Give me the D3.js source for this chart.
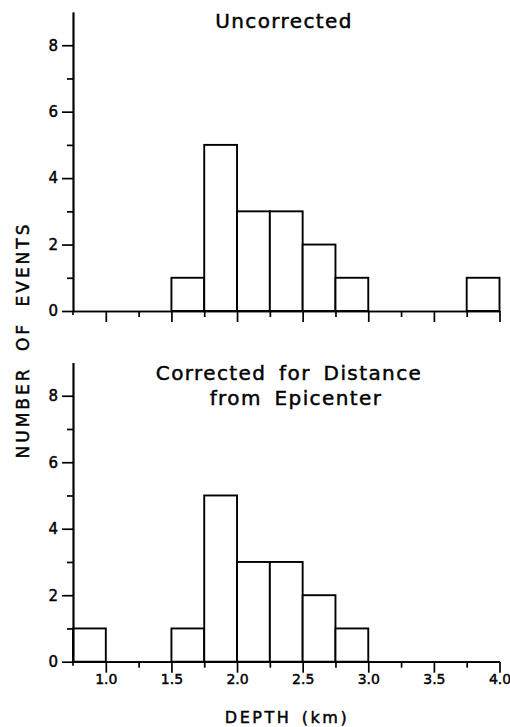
<!DOCTYPE html>
<html>
<head>
<meta charset="utf-8">
<script src="https://cdn.jsdelivr.net/npm/d3@7"></script>
<style>
  html, body { margin: 0; padding: 0; background: #fff; }
  svg { display: block; }
  text { font-family: "DejaVu Sans", sans-serif; fill: #000; stroke: #000; stroke-width: 0.45px; }
  .axis path, .axis line { stroke: #000; stroke-width: 1.7; }
  .xt text { font-size: 14px; }
  .yt text { font-size: 15px; }
</style>
</head>
<body>
<script>
// Data: histogram bins of 0.25 km from 0.75 to 4.0 km
const binStarts = [0.75, 1.0, 1.25, 1.5, 1.75, 2.0, 2.25, 2.5, 2.75, 3.0, 3.25, 3.5, 3.75];
const binWidth = 0.25;
const uncorrected = [0, 0, 0, 1, 5, 3, 3, 2, 1, 0, 0, 0, 1];
const corrected   = [1, 0, 0, 1, 5, 3, 3, 2, 1, 0, 0, 0, 0];
const xMajorTicks = [1.0, 1.5, 2.0, 2.5, 3.0, 3.5, 4.0];
const xMinorTicks = [1.25, 1.75, 2.25, 2.75, 3.25, 3.75];
const yMajorTicks = [0, 2, 4, 6, 8];
const yMinorTicks = [1, 3, 5, 7];
const titleTop = ["Uncorrected"];
const titleBottom = ["Corrected for Distance", "from Epicenter"];
const xLabel = "DEPTH (km)";
const yLabel = "NUMBER OF EVENTS";

const W = 510, H = 727;
const svg = d3.select("body").append("svg").attr("width", W).attr("height", H);

const x = d3.scaleLinear().domain([0.75, 4.0]).range([73, 499.5]);

function panel(values, y0, y1, titles, titleYs, titleXs, showLabels) {
  const y = d3.scaleLinear().domain([0, 9]).range([y0, y1]);
  const g = svg.append("g");

  // bars
  g.selectAll("rect.bar")
    .data(binStarts.map((s, i) => ({ s, v: values[i] })).filter(d => d.v > 0))
    .join("rect")
    .attr("class", "bar")
    .attr("x", d => x(d.s))
    .attr("y", d => y(d.v))
    .attr("width", d => x(d.s + binWidth) - x(d.s))
    .attr("height", d => y(0) - y(d.v))
    .attr("fill", "#fff")
    .attr("stroke", "#000")
    .attr("stroke-width", 1.9);

  // x axis minor
  g.append("g").attr("class", "axis")
    .attr("transform", `translate(0,${y(0)})`)
    .call(d3.axisBottom(x).tickValues(xMinorTicks).tickSize(6).tickSizeOuter(0).tickFormat(""));
  // x axis major
  const xa = g.append("g").attr("class", "axis xt")
    .attr("transform", `translate(0,${y(0)})`)
    .call(d3.axisBottom(x).tickValues(xMajorTicks).tickSize(11).tickSizeOuter(0)
      .tickFormat(showLabels ? d3.format(".1f") : ""));
  xa.attr("font-size", null).attr("font-family", null);
  xa.selectAll("text").attr("dy", "0.35em").attr("y", 17);

  // y axis minor
  g.append("g").attr("class", "axis")
    .attr("transform", `translate(${x(0.75)},0)`)
    .call(d3.axisLeft(y).tickValues(yMinorTicks).tickSize(6).tickSizeOuter(0).tickFormat(""));
  // y axis major
  const ya = g.append("g").attr("class", "axis yt")
    .attr("transform", `translate(${x(0.75)},0)`)
    .call(d3.axisLeft(y).tickValues(yMajorTicks).tickSize(11).tickSizeOuter(0).tickFormat(d3.format("d")));
  ya.attr("font-size", null).attr("font-family", null);
  ya.selectAll("text").attr("x", -15);
  // small extension of y axis below origin
  g.append("line").attr("x1", x(0.75)).attr("x2", x(0.75))
    .attr("y1", y(0)).attr("y2", y(0) + 4).attr("stroke", "#000").attr("stroke-width", 1.7);

  titles.forEach((t, i) => {
    g.append("text").attr("x", titleXs[i]).attr("y", titleYs[i])
      .attr("text-anchor", "middle").style("font-size", "20px")
      .attr("letter-spacing", 1.4).attr("word-spacing", 5)
      .text(t);
  });
}

panel(uncorrected, 311, 12, titleTop, [28], [284], false);
panel(corrected, 661.7, 362.5, titleBottom, [380, 405], [289, 296], true);

svg.append("text").attr("x", 287).attr("y", 723).attr("text-anchor", "middle")
  .style("font-size", "16px").attr("letter-spacing", 2.5).attr("word-spacing", 3).text(xLabel);

svg.append("text").attr("transform", "translate(29,340) rotate(-90)")
  .attr("text-anchor", "middle").style("font-size", "17px")
  .attr("letter-spacing", 3).attr("word-spacing", 7).text(yLabel);
</script>
</body>
</html>
